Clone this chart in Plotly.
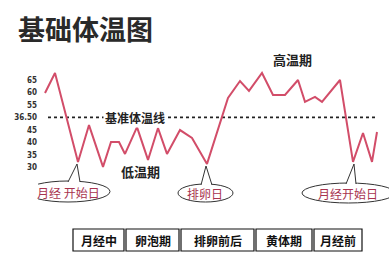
import plotly.graph_objects as go

# ---- data ----
day_pos = [45, 55, 78, 89, 103, 111, 119, 125, 137, 148, 158, 167, 180, 192, 207,
           228, 240, 249, 262, 273, 285, 298, 305, 315, 322, 340, 353, 363, 372, 377]
temps = [59.8, 67.8, 32.1, 46.9, 30.1, 40.1, 40.1, 35.3, 46.1, 32.9, 45.7, 35.3, 44.9, 41.7, 31.3,
         57.8, 64.6, 60.6, 67.8, 59.0, 59.0, 65.0, 56.2, 58.2, 56.2, 65.0, 32.1, 43.7, 32.1, 44.1]
tick_vals = [65, 60, 55, 50, 45, 40, 35, 30]
tick_text = ["65", "60", "55", "36.50", "45", "40", "35", "30"]
baseline = 50
phases = ["月经中", "卵泡期", "排卵前后", "黄体期", "月经前"]
phase_bounds = [(73, 124), (126, 179), (181, 254), (256, 312), (314, 362)]

CJK = "Noto Sans CJK SC"


def pv(y):  # pixel row -> value on y axis (layout helper)
    return 65 - (y - 80) / 2.49


fig = go.Figure()
fig.add_trace(go.Scatter(x=day_pos, y=temps, mode="lines",
                         line=dict(color="#d24d69", width=2), hoverinfo="skip"))

shapes = []
# baseline dotted
shapes.append(dict(type="line", xref="x", yref="y", x0=48, x1=376, y0=baseline, y1=baseline,
                   line=dict(color="#222", width=1.6, dash="dot"), layer="below"))

# callout ellipses
ells = [(26, 110, 181, 202), (178, 233, 184, 202), (302, 395, 183, 203)]
for x0, x1, y0, y1 in ells:
    shapes.append(dict(type="circle", xref="x", yref="y", x0=x0, x1=x1, y0=pv(y0), y1=pv(y1),
                       line=dict(color="#333", width=1), fillcolor="white"))
# tails
tails = [(68, 181, 77, 164, 80, 181), (201, 184, 206, 166, 212, 184), (346, 183, 354, 164, 356, 183)]
for ax, ay, bx, by, cx, cy in tails:
    path = f"M {ax},{pv(ay + 1)} L {bx},{pv(by)} L {cx},{pv(cy + 1)}"
    shapes.append(dict(type="path", xref="x", yref="y", path=path,
                       line=dict(color="#333", width=1), fillcolor="white"))

# phase boxes
for x0, x1 in phase_bounds:
    shapes.append(dict(type="rect", xref="x", yref="y", x0=x0, x1=x1, y0=pv(251), y1=pv(229),
                       line=dict(color="#111", width=1.2), fillcolor="white"))

annotations = []
annotations.append(dict(x=135, y=baseline, xref="x", yref="y", text="<b>基准体温线</b>",
                        showarrow=False, bgcolor="white",
                        font=dict(family=CJK, size=12, color="#222")))
annotations.append(dict(x=292, y=pv(59), xref="x", yref="y", text="<b>高温期</b>",
                        showarrow=False, font=dict(family=CJK, size=13, color="#222")))
annotations.append(dict(x=140, y=pv(171), xref="x", yref="y", text="<b>低温期</b>",
                        showarrow=False, font=dict(family=CJK, size=13, color="#222")))
for txt, x, y in [("月经 开始日", 68, 192), ("排卵日", 205, 193), ("月经开始日", 348, 193)]:
    annotations.append(dict(x=x, y=pv(y), xref="x", yref="y", text=txt, showarrow=False,
                            font=dict(family=CJK, size=12, color="#a8334f")))
for name, (x0, x1) in zip(phases, phase_bounds):
    annotations.append(dict(x=(x0 + x1) / 2, y=pv(240), xref="x", yref="y",
                            text=f"<b>{name}</b>", showarrow=False,
                            font=dict(family=CJK, size=12, color="#111")))

fig.update_layout(
    width=389, height=267,
    margin=dict(l=38, r=0, t=0, b=0),
    paper_bgcolor="white", plot_bgcolor="white",
    showlegend=False,
    title=dict(text="<b>基础体温图</b>", x=18 / 389, xref="container", xanchor="left",
               y=1 - 31 / 267, yref="container", yanchor="middle",
               font=dict(family=CJK, size=27, color="#2a2a2a")),
    xaxis=dict(range=[38, 389], visible=False),
    yaxis=dict(range=[pv(267), pv(0)], tickvals=tick_vals, ticktext=tick_text,
               showgrid=False, zeroline=False, showline=False, ticks="",
               tickfont=dict(family="DejaVu Sans Condensed", size=8, color="#333", weight="bold")),
    shapes=shapes,
    annotations=annotations,
)

fig.write_html("out.html")
